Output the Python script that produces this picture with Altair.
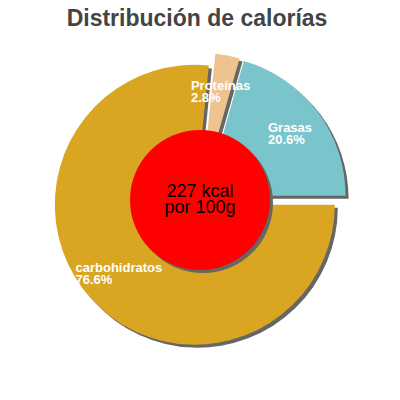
import altair as alt
import pandas as pd

# ---- data ----
names = ["carbohidratos", "Proteínas", "Grasas"]
percents = [76.6, 2.8, 20.6]
colors = ["#DAA520", "#EFC38F", "#7AC4CC"]
center_lines = ["227 kcal", "por 100g"]
title_text = "Distribución de calorías"

# ---- layout / style constants ----
W, H = 384, 354
CX, CY = 192, 162        # pie centre inside the view
R = 140                  # pie radius
EXPLODE = 7              # slice explode distance
SHADOW = 3               # shadow offset
RED_R = 70               # centre disc radius
LABEL_R = 110
START = "PI/2"
SHADOW_COLOR = "#666666"

df = pd.DataFrame({"name": names, "pct": percents, "order": list(range(len(names)))})

base = (
    alt.Chart(df)
    .transform_window(cum="sum(pct)", sort=[alt.SortField("order")], frame=[None, 0])
    .transform_calculate(
        t1=f"{START} + datum.cum/100*2*PI",
        t0="datum.t1 - datum.pct/100*2*PI",
        mid="(datum.t0 + datum.t1)/2",
        cx=f"{CX} + {EXPLODE}*sin(datum.mid)",
        cy=f"{CY} - {EXPLODE}*cos(datum.mid)",
        sx=f"datum.cx + {SHADOW}",
        sy=f"datum.cy + {SHADOW}",
        lx=f"{CX} + {LABEL_R}*sin(datum.mid) - length(datum.name)*3.3",
        ly=f"{CY} - {LABEL_R}*cos(datum.mid)",
        label="datum.name + '\\n' + format(datum.pct, '.1f') + '%'",
    )
)

shadows = base.mark_arc(radius=R, color=SHADOW_COLOR).encode(
    theta=alt.Theta("t0:Q", scale=None),
    theta2=alt.Theta2("t1:Q"),
    x=alt.X("sx:Q", scale=None, axis=None),
    y=alt.Y("sy:Q", scale=None, axis=None),
)

slices = base.mark_arc(radius=R).encode(
    theta=alt.Theta("t0:Q", scale=None),
    theta2=alt.Theta2("t1:Q"),
    x=alt.X("cx:Q", scale=None, axis=None),
    y=alt.Y("cy:Q", scale=None, axis=None),
    color=alt.Color("name:N", scale=alt.Scale(domain=names, range=colors), legend=None),
)

labels = base.mark_text(
    align="left", baseline="middle", lineBreak="\n", lineHeight=12, dy=-6,
    font="Liberation Sans", fontSize=13, fontWeight="bold", color="white",
).encode(
    x=alt.X("lx:Q", scale=None, axis=None),
    y=alt.Y("ly:Q", scale=None, axis=None),
    text="label:N",
)

cdf = pd.DataFrame({"text": ["\n".join(center_lines)]})
cbase = alt.Chart(cdf)

disc_shadow = cbase.mark_arc(radius=RED_R, theta=0, theta2=6.2832, color=SHADOW_COLOR).encode(
    x=alt.value(CX + SHADOW), y=alt.value(CY + SHADOW)
)
disc = cbase.mark_arc(radius=RED_R, theta=0, theta2=6.2832, color="#FF0000").encode(
    x=alt.value(CX), y=alt.value(CY)
)
center_text = cbase.mark_text(
    align="center", baseline="middle", lineBreak="\n", lineHeight=16, dy=-8,
    font="Liberation Sans", fontSize=18, color="black",
).encode(x=alt.value(CX), y=alt.value(CY), text="text:N")

tdf = pd.DataFrame({"title": [title_text]})
title = alt.Chart(tdf).mark_text(
    align="center", baseline="alphabetic",
    font="Liberation Sans", fontSize=23, fontWeight="bold", color="#444444",
).encode(x=alt.value(CX - 3), y=alt.value(-12), text="title:N")

chart = (
    alt.layer(shadows, slices, labels, disc_shadow, disc, center_text, title)
    .properties(
        width=W, height=H,
        autosize=alt.AutoSizeParams(type="none"),
        padding={"left": 0, "right": 0, "top": 30, "bottom": 0},
    )
    .configure_view(stroke=None)
)

chart.save("out.html", embed_options={"renderer": "svg", "actions": False})
